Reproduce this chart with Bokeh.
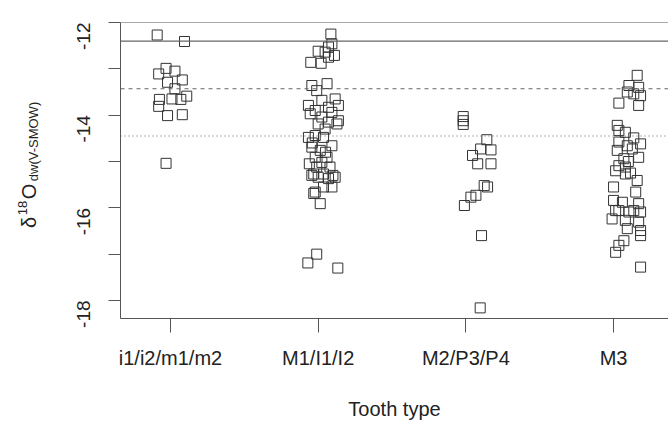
import math
from bokeh.plotting import figure
from bokeh.layouts import row
from bokeh.models import ColumnDataSource, FixedTicker, Range1d, Span
from bokeh.core.properties import value
from bokeh.embed import file_html
from bokeh.resources import INLINE

categories = ["i1/i2/m1/m2", "M1/I1/I2", "M2/P3/P4", "M3"]

# delta18O of drinking water per tooth type, with horizontal jitter offsets
g1_y = [-12.27, -12.41, -12.99, -13.11, -13.05, -13.29, -13.24, -13.43, -13.59,
        -13.66, -13.65, -13.66, -13.81, -14.01, -13.99, -15.04]
g1_dx = [-0.09, 0.095, -0.03, -0.08, 0.03, -0.02, 0.08, 0.03, 0.11,
         -0.075, 0.01, 0.07, -0.08, -0.02, 0.08, -0.03]

g2_y = [-12.25, -12.46, -12.53, -12.62, -12.64, -12.71, -12.75, -12.86, -12.88,
        -13.32, -13.36, -13.47, -13.65, -13.68, -13.79, -13.79, -13.83, -13.90,
        -13.97, -13.94, -14.04, -14.12, -14.15, -14.19, -14.19, -14.30, -14.48,
        -14.44, -14.48, -14.60, -14.66, -14.69, -14.76, -14.80, -14.91, -14.91,
        -15.02, -15.05, -15.12, -15.12, -15.27, -15.27, -15.30, -15.34, -15.37,
        -15.34, -15.30, -15.55, -15.55, -15.66, -15.69, -15.91, -17.00, -17.19,
        -17.30]
g2_dx = [0.086, 0.093, 0.07, 0.0, 0.047, 0.11, 0.07, -0.05, 0.02,
         0.06, -0.043, -0.01, 0.115, 0.025, -0.066, 0.137, 0.07, -0.02,
         -0.054, 0.093, 0.025, 0.137, 0.07, 0.0, 0.127, 0.047, -0.066,
         -0.02, 0.036, -0.04, 0.093, -0.043, 0.014, 0.05, -0.02, 0.06,
         0.025, -0.06, -0.01, 0.08, -0.03, 0.036, 0.10, 0.0, 0.07,
         0.115, -0.043, 0.036, 0.093, -0.02, -0.03, 0.014, -0.01, -0.07,
         0.133]

g3_y = [-14.03, -14.12, -14.20, -14.53, -14.73, -14.75, -14.87, -15.05, -15.05,
        -15.52, -15.55, -15.73, -15.77, -15.95, -16.60, -18.16]
g3_dx = [-0.018, -0.018, -0.018, 0.142, 0.10, 0.17, 0.045, 0.08, 0.17,
         0.124, 0.147, 0.068, 0.034, -0.01, 0.106, 0.097]

g4_y = [-13.14, -13.36, -13.40, -13.50, -13.54, -13.58, -13.79, -13.74, -14.22,
        -14.33, -14.37, -14.49, -14.58, -14.66, -14.62, -14.73, -14.76, -14.94,
        -14.91, -15.00, -15.09, -15.12, -15.20, -15.25, -15.27, -15.41, -15.55,
        -15.66, -15.84, -15.88, -15.91, -16.06, -16.06, -16.09, -16.06, -16.09,
        -16.24, -16.27, -16.31, -16.45, -16.49, -16.60, -16.71, -16.81, -16.96,
        -17.28]
g4_dx = [0.16, 0.104, 0.17, 0.093, 0.137, 0.183, 0.17, 0.036, 0.025,
         0.036, 0.08, 0.137, 0.036, 0.093, 0.183, 0.127, 0.025, 0.07,
         0.17, 0.10, 0.036, 0.08, 0.014, 0.115, 0.08, 0.16, 0.0,
         0.15, 0.0, 0.06, 0.17, 0.014, 0.036, 0.104, 0.137, 0.183,
         -0.01, 0.08, 0.17, 0.093, 0.183, 0.183, 0.07, 0.036, 0.014,
         0.183]

ref_solid = -12.4
ref_dashed = -13.43
ref_dotted = -14.45

y_major_ticks = [-18, -16, -14, -12]
y_minor_ticks = [-17, -15, -13]

# y-axis title pieces: delta, superscript 18, O, subscript dw(V-SMOW)
ylabel_parts = ["δ", "18", "O", "dw(V-SMOW)"]

groups = [(g1_y, g1_dx), (g2_y, g2_dx), (g3_y, g3_dx), (g4_y, g4_dx)]
xs, ys = [], []
for i, (gy, gdx) in enumerate(groups):
    for yv, dx in zip(gy, gdx):
        xs.append(i + 1 + dx)
        ys.append(yv)
src = ColumnDataSource(dict(x=xs, y=ys))

FONT = "Liberation Sans"
AX = "#555555"
TXT = "#222222"
LABEL_W = 60
H = 422
TOP, BOTTOM = 22, 318  # frame edges in page pixels

# narrow panel holding the composed y-axis title; its frame is aligned with the
# main frame by the row layout, so its y range is expressed as H - page_y
lab = figure(width=LABEL_W, height=H, output_backend="svg", toolbar_location=None,
             x_range=Range1d(0, LABEL_W), y_range=Range1d(H - BOTTOM, H - TOP),
             min_border=0, x_axis_location=None, y_axis_location=None)
lab.grid.visible = False
lab.outline_line_color = None
lab.border_fill_color = "white"
lab.background_fill_color = "white"
lab_src = ColumnDataSource(dict(
    x=[28.5, 21.5, 28.5, 33],
    y=[H - 222, H - 207.5, H - 191, H - 141],
    text=ylabel_parts,
    size=["20px", "13px", "20px", "13px"],
))
lab.text(x="x", y="y", text="text", source=lab_src, angle=math.pi / 2,
         text_font=value(FONT), text_font_size="size", text_color=TXT,
         text_baseline="middle", text_align="center")

p = figure(width=668 - LABEL_W, height=H, output_backend="svg", toolbar_location=None,
           x_range=Range1d(0.6615, 4.372), y_range=Range1d(-18.389, -12.0),
           min_border_left=120 - LABEL_W, min_border_right=0, min_border_top=TOP,
           min_border_bottom=H - BOTTOM)
p.grid.visible = False
p.outline_line_color = None
p.background_fill_color = "white"
p.border_fill_color = "white"

# x axis
xa = p.xaxis[0]
xa.ticker = FixedTicker(ticks=[1, 2, 3, 4])
xa.major_label_overrides = {i + 1: c for i, c in enumerate(categories)}
xa.major_tick_out = 14
xa.major_tick_in = 0
xa.minor_tick_out = 0
xa.axis_line_color = AX
xa.major_tick_line_color = AX
xa.major_label_text_font = FONT
xa.major_label_text_font_size = "20px"
xa.major_label_text_color = TXT
xa.major_label_standoff = 14
xa.axis_label = "Tooth type"
xa.axis_label_text_font = FONT
xa.axis_label_text_font_size = "20px"
xa.axis_label_text_font_style = "normal"
xa.axis_label_text_color = TXT
xa.axis_label_standoff = 26

# y axis
ya = p.yaxis[0]
ya.ticker = FixedTicker(ticks=y_major_ticks, minor_ticks=y_minor_ticks)
ya.major_label_overrides = {t: str(t) for t in y_major_ticks}
ya.major_tick_out = 12
ya.major_tick_in = 0
ya.minor_tick_out = 12
ya.minor_tick_in = 0
ya.axis_line_color = AX
ya.major_tick_line_color = AX
ya.minor_tick_line_color = AX
ya.major_label_orientation = math.pi / 2
ya.major_label_text_font = FONT
ya.major_label_text_font_size = "19px"
ya.major_label_text_color = TXT
ya.major_label_standoff = 25

# box top and reference lines
p.add_layout(Span(location=-12.0, dimension="width", line_color=AX, line_width=1))
p.add_layout(Span(location=ref_solid, dimension="width", line_color="#666666", line_width=1.2))
p.add_layout(Span(location=ref_dashed, dimension="width", line_color="#666666",
                  line_width=1.2, line_dash="4 4"))
p.add_layout(Span(location=ref_dotted, dimension="width", line_color="#666666",
                  line_width=1.2, line_dash="1 3"))

p.scatter(x="x", y="y", source=src, marker="square", size=10,
          fill_color=None, line_color="#333333", line_width=1)

layout = row(lab, p, spacing=0)
open("out.html", "w").write(file_html(layout, INLINE))
